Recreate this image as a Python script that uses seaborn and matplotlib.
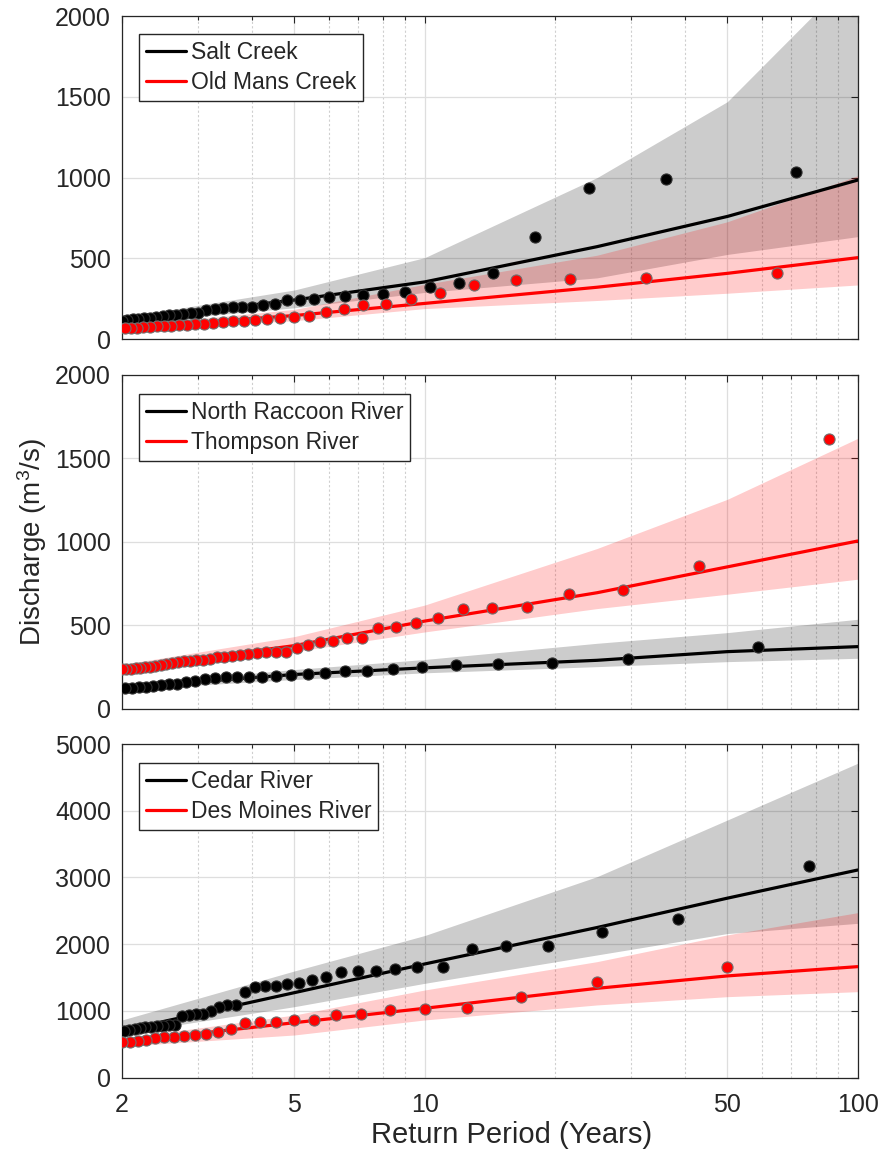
import matplotlib
matplotlib.use("Agg")
import matplotlib.pyplot as plt
from matplotlib.ticker import FixedLocator, FixedFormatter, NullFormatter
import numpy as np
import pandas as pd
import seaborn as sns

# ---------------------------------------------------------------------------
# Return periods at which the fitted frequency curves / bounds are evaluated
rp_grid = [2, 5, 10, 25, 50, 100]

# Panel 1 -------------------------------------------------------------------
salt_n = 71                      # years of record
salt_q = [1035, 990, 938, 631, 412, 350, 322, 291, 282, 272, 266, 264,
          249, 243, 243, 216, 212, 202, 202, 198, 192, 187, 181, 161,
          161, 156, 152, 148, 144, 138, 134, 130, 126, 124, 119, 115]
salt_fit = [118, 243, 355, 573, 760, 985]
salt_lo = [100, 195, 290, 380, 525, 635]
salt_hi = [135, 305, 505, 1000, 1470, 2280]

oldmans_n = 64
oldmans_q = [412, 381, 373, 367, 336, 288, 249, 216, 210, 187, 167, 144,
             140, 130, 126, 119, 115, 111, 105, 99, 95, 95, 88, 88,
             84, 82, 80, 78, 75, 72, 70, 68]
oldmans_fit = [70, 147, 222, 322, 408, 505]
oldmans_lo = [58, 115, 190, 240, 285, 336]
oldmans_hi = [80, 185, 340, 520, 727, 1012]

# Panel 2 -------------------------------------------------------------------
nraccoon_n = 58
nraccoon_q = [368, 298, 276, 270, 262, 248, 236, 224, 224, 216, 208, 202,
              198, 192, 192, 192, 188, 182, 176, 168, 160, 148, 148, 142,
              136, 132, 128, 126, 122]
nraccoon_fit = [128, 205, 245, 290, 342, 372]
nraccoon_lo = [115, 175, 215, 252, 282, 302]
nraccoon_hi = [142, 235, 295, 392, 456, 536]

thompson_n = 85
thompson_q = [1615, 857, 713, 686, 608, 602, 598, 545, 512, 492, 482, 426,
              426, 406, 402, 382, 364, 342, 342, 338, 332, 326, 324, 318,
              312, 308, 298, 292, 292, 288, 286, 282, 272, 268, 262, 256,
              252, 248, 244, 242, 240, 240, 238]
thompson_fit = [242, 378, 525, 695, 850, 1005]
thompson_lo = [225, 342, 460, 600, 686, 776]
thompson_hi = [265, 432, 621, 960, 1255, 1620]

# Panel 3 -------------------------------------------------------------------
cedar_n = 76
cedar_q = [3177, 2373, 2178, 1969, 1969, 1928, 1663, 1663, 1633, 1603,
           1603, 1579, 1513, 1464, 1424, 1400, 1374, 1374, 1355, 1289,
           1085, 1085, 1064, 1000, 950, 950, 940, 925, 790, 790, 780,
           775, 765, 755, 740, 730, 715, 700]
cedar_fit = [705, 1274, 1704, 2250, 2690, 3112]
cedar_lo = [660, 1064, 1414, 1839, 2160, 2313]
cedar_hi = [865, 1599, 2130, 3012, 3861, 4711]

desmoines_n = 49
desmoines_q = [1654, 1429, 1204, 1040, 1025, 1015, 955, 940, 865, 865,
               830, 830, 815, 730, 690, 655, 640, 625, 615, 605, 590,
               565, 550, 540, 530]
desmoines_fit = [535, 824, 1040, 1339, 1525, 1664]
desmoines_lo = [470, 640, 865, 1090, 1214, 1289]
desmoines_hi = [590, 939, 1314, 1739, 2140, 2473]

x_ticks = [2, 5, 10, 50, 100]
x_ticklabels = ["2", "5", "10", "50", "100"]
x_minor = [3, 4, 6, 7, 8, 9, 20, 30, 40, 60, 70, 80, 90]

panels = [
    dict(series=[("Salt Creek", salt_n, salt_q, salt_fit, salt_lo, salt_hi),
                 ("Old Mans Creek", oldmans_n, oldmans_q, oldmans_fit,
                  oldmans_lo, oldmans_hi)],
         yticks=[0, 500, 1000, 1500, 2000]),
    dict(series=[("North Raccoon River", nraccoon_n, nraccoon_q, nraccoon_fit,
                  nraccoon_lo, nraccoon_hi),
                 ("Thompson River", thompson_n, thompson_q, thompson_fit,
                  thompson_lo, thompson_hi)],
         yticks=[0, 500, 1000, 1500, 2000]),
    dict(series=[("Cedar River", cedar_n, cedar_q, cedar_fit, cedar_lo,
                  cedar_hi),
                 ("Des Moines River", desmoines_n, desmoines_q, desmoines_fit,
                  desmoines_lo, desmoines_hi)],
         yticks=[0, 1000, 2000, 3000, 4000, 5000]),
]

# ---------------------------------------------------------------------------
sns.set_theme(style="white")
plt.rcParams["font.family"] = ["Liberation Sans", "DejaVu Sans"]
plt.rcParams["mathtext.default"] = "regular"
TXT = "#262626"

fig = plt.figure(figsize=(8.82, 11.62), dpi=100)
W, H = 882.0, 1162.0
ax_left, ax_right = 122.0, 857.7
boxes = [(16.0, 339.3), (375.0, 708.7), (744.0, 1077.7)]
colors = ["black", "red"]
edge = ["#303030", "#707070"]


def plotting_positions(n, count):
    # Weibull plotting position T = (n + 1) / rank
    ranks = np.arange(1, count + 1)
    return (n + 1) / ranks


for i, (panel, (top, bot)) in enumerate(zip(panels, boxes)):
    ax = fig.add_axes([ax_left / W, 1 - bot / H, (ax_right - ax_left) / W,
                       (bot - top) / H])
    ax.set_xscale("log")
    handles = []
    # confidence bands first
    for (name, n, q, fit, lo, hi), c in zip(panel["series"], colors):
        ax.fill_between(rp_grid, lo, hi, color=c, alpha=0.2, lw=0, zorder=1)
    # fitted curves
    for (name, n, q, fit, lo, hi), c in zip(panel["series"], colors):
        df = pd.DataFrame({"T": rp_grid, "Q": fit})
        sns.lineplot(data=df, x="T", y="Q", ax=ax, color=c, lw=2.3,
                     zorder=3, label=name, legend=False)
        handles.append(ax.lines[-1])
    # observed annual peaks
    for (name, n, q, fit, lo, hi), c, ec in zip(panel["series"], colors, edge):
        pts = pd.DataFrame({"T": plotting_positions(n, len(q)), "Q": q})
        sns.scatterplot(data=pts, x="T", y="Q", ax=ax, color=c, s=64,
                        edgecolor=ec, linewidth=0.8, zorder=4, legend=False)

    yt = panel["yticks"]
    ax.set_xlim(2, 100)
    ax.set_ylim(yt[0], yt[-1])
    ax.yaxis.set_major_locator(FixedLocator(yt))
    ax.xaxis.set_major_locator(FixedLocator(x_ticks))
    ax.xaxis.set_minor_locator(FixedLocator(x_minor))
    ax.xaxis.set_minor_formatter(NullFormatter())
    if i == 2:
        ax.xaxis.set_major_formatter(FixedFormatter(x_ticklabels))
    else:
        ax.xaxis.set_major_formatter(NullFormatter())
    ax.set_xlabel("")
    ax.set_ylabel("")

    ax.set_axisbelow(True)
    ax.grid(True, which="major", color="#dedede", lw=0.9, ls="-")
    ax.grid(True, which="minor", axis="x", color="#cfcfcf", lw=0.8,
            ls=(0, (2, 2)))
    ax.tick_params(which="both", direction="in", top=True, right=True,
                   colors=TXT, labelcolor=TXT, width=0.8)
    ax.tick_params(which="major", length=5, labelsize=18, pad=8)
    ax.tick_params(axis="x", which="major", pad=11)
    ax.tick_params(which="minor", length=3)
    for s in ax.spines.values():
        s.set_color(TXT)
        s.set_linewidth(0.9)

    leg = ax.legend(handles=handles, labels=[s[0] for s in panel["series"]],
                    loc="upper left", bbox_to_anchor=(0.0235, 0.943),
                    borderaxespad=0, fontsize=16.5, frameon=True,
                    fancybox=False, framealpha=1, edgecolor=TXT,
                    handlelength=1.75, handletextpad=0.2, borderpad=0.3,
                    labelspacing=0.3)
    leg.get_frame().set_linewidth(1.0)
    for t in leg.get_texts():
        t.set_color(TXT)

fig.text(512 / W, 1 - 1135 / H, "Return Period (Years)", ha="center",
         va="center", fontsize=21, color=TXT)
fig.text(32 / W, 1 - 541.7 / H, "Discharge (m$^3$/s)", rotation=90,
         ha="center", va="center", fontsize=20, color=TXT)

fig.savefig("out.png", dpi=100)
